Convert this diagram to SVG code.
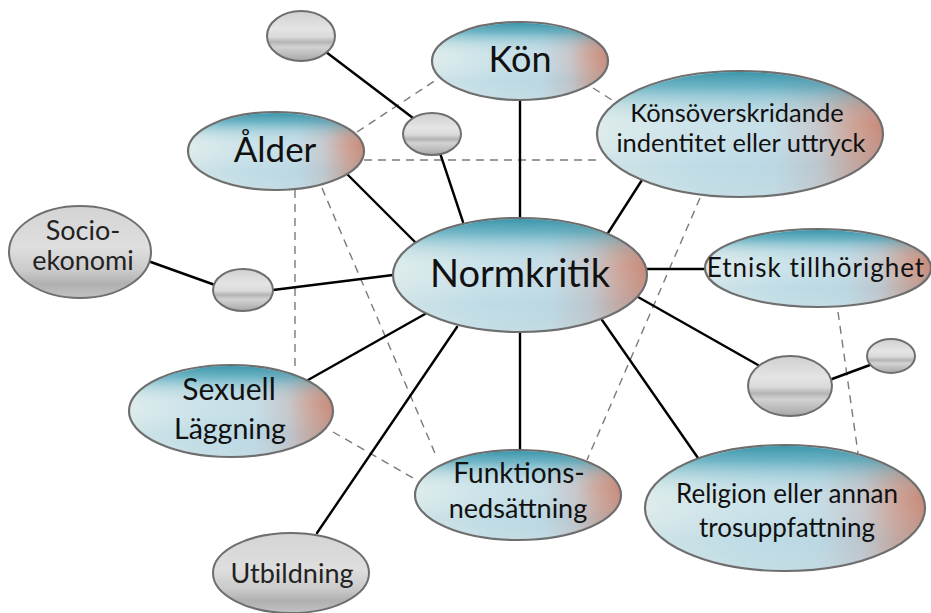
<svg xmlns="http://www.w3.org/2000/svg" width="931" height="613" viewBox="0 0 931 613">
<defs>
<linearGradient id="warm" x1="0" y1="0" x2="1" y2="0">
<stop offset="0" stop-color="#dbeae9"/>
<stop offset="0.35" stop-color="#c6e0e8"/>
<stop offset="0.62" stop-color="#c0dae4"/>
<stop offset="0.78" stop-color="#c2c2c6"/>
<stop offset="0.9" stop-color="#c99a8c"/>
<stop offset="1" stop-color="#c27f6d"/>
</linearGradient>
<linearGradient id="sky" x1="0" y1="0" x2="0" y2="1">
<stop offset="0" stop-color="#2f8ea3" stop-opacity="0.9"/>
<stop offset="0.12" stop-color="#3e9db3" stop-opacity="0.65"/>
<stop offset="0.28" stop-color="#8cc4d2" stop-opacity="0.22"/>
<stop offset="0.42" stop-color="#ffffff" stop-opacity="0.08"/>
<stop offset="0.75" stop-color="#a9cfe0" stop-opacity="0.25"/>
<stop offset="1" stop-color="#c8dce0" stop-opacity="0.3"/>
</linearGradient>
<linearGradient id="greyband" x1="0" y1="0" x2="0" y2="1">
<stop offset="0" stop-color="#d0d0d0"/>
<stop offset="0.35" stop-color="#e4e4e4"/>
<stop offset="0.52" stop-color="#dadada"/>
<stop offset="0.62" stop-color="#b4b4b4"/>
<stop offset="0.72" stop-color="#d2d2d2"/>
<stop offset="0.88" stop-color="#bababa"/>
<stop offset="1" stop-color="#a6a6a6"/>
</linearGradient>
<linearGradient id="greysoft" x1="0" y1="0" x2="0" y2="1">
<stop offset="0" stop-color="#d4d4d4"/>
<stop offset="0.45" stop-color="#dedede"/>
<stop offset="0.7" stop-color="#cacaca"/>
<stop offset="0.85" stop-color="#b0b0b0"/>
<stop offset="1" stop-color="#c2c2c2"/>
</linearGradient>
<style>
.solid{stroke:#000;stroke-width:2.4;fill:none;stroke-linecap:round}
.dash{stroke:#7a7a7a;stroke-width:1.4;fill:none;stroke-dasharray:8 6}
.c{fill:url(#warm);stroke:#6e6e6e;stroke-width:2.2}
.o{fill:url(#sky);stroke:none}
.g{fill:url(#greyband);stroke:#6e6e6e;stroke-width:2}
.gs{fill:url(#greysoft);stroke:#6e6e6e;stroke-width:2}
text{font-family:"Lato","Open Sans","DejaVu Sans",sans-serif;fill:#111;text-anchor:middle}
.lt{fill:#222}
</style>
</defs>
<rect width="931" height="613" fill="#ffffff"/>
<g id="connectors">
<line class="dash" x1="357" y1="132" x2="436" y2="80"/>
<line class="dash" x1="593" y1="88" x2="612" y2="100"/>
<line class="dash" x1="364" y1="160" x2="600" y2="160"/>
<line class="dash" x1="295" y1="190" x2="295" y2="370"/>
<line class="dash" x1="322" y1="188" x2="437" y2="458"/>
<line class="dash" x1="333" y1="432" x2="413" y2="478"/>
<line class="dash" x1="700" y1="198" x2="587" y2="460"/>
<line class="dash" x1="838" y1="312" x2="858" y2="453"/>
<line class="solid" x1="520" y1="100" x2="520" y2="218"/>
<line class="solid" x1="440" y1="153" x2="463" y2="222"/>
<line class="solid" x1="326" y1="52" x2="413" y2="118"/>
<line class="solid" x1="348" y1="175" x2="415" y2="242"/>
<line class="solid" x1="273" y1="290" x2="393" y2="275"/>
<line class="solid" x1="148" y1="261" x2="215" y2="285"/>
<line class="solid" x1="308" y1="380" x2="425" y2="314"/>
<line class="solid" x1="457" y1="327" x2="317" y2="533"/>
<line class="solid" x1="520" y1="332" x2="520" y2="450"/>
<line class="solid" x1="602" y1="320" x2="698" y2="458"/>
<line class="solid" x1="638" y1="297" x2="758" y2="365"/>
<line class="solid" x1="832" y1="379" x2="870" y2="365"/>
<line class="solid" x1="647" y1="269" x2="705" y2="269"/>
<line class="solid" x1="608" y1="233" x2="642" y2="180"/>
</g>
<g id="n-normkritik">
<ellipse class="c" cx="520" cy="275" rx="127" ry="57"/>
<ellipse class="o" cx="520" cy="275" rx="126" ry="56"/>
<text x="520" y="287" font-size="38">Normkritik</text>
</g>
<g id="n-kon">
<ellipse class="c" cx="520" cy="61" rx="88" ry="39"/>
<ellipse class="o" cx="520" cy="61" rx="87" ry="38"/>
<text x="520" y="72" font-size="36">Kön</text>
</g>
<g id="n-alder">
<ellipse class="c" cx="276" cy="151" rx="88" ry="39"/>
<ellipse class="o" cx="276" cy="151" rx="87" ry="38"/>
<text x="275" y="162" font-size="35">Ålder</text>
</g>
<g id="n-konsoverskridande">
<ellipse class="c" cx="740" cy="134" rx="143" ry="63"/>
<ellipse class="o" cx="740" cy="134" rx="142" ry="62"/>
<text x="737" y="122" font-size="25.5">Könsöverskridande</text>
<text x="741" y="152" font-size="25.5">indentitet eller uttryck</text>
</g>
<g id="n-etnisk">
<ellipse class="c" cx="818" cy="268" rx="113" ry="39"/>
<ellipse class="o" cx="818" cy="268" rx="112" ry="38"/>
<text x="816" y="277" font-size="26" letter-spacing="1">Etnisk tillhörighet</text>
</g>
<g id="n-religion">
<ellipse class="c" cx="785" cy="508" rx="140" ry="63"/>
<ellipse class="o" cx="785" cy="508" rx="139" ry="62"/>
<text x="787" y="503" font-size="26">Religion eller annan</text>
<text x="787" y="537" font-size="26">trosuppfattning</text>
</g>
<g id="n-funktion">
<ellipse class="c" cx="518" cy="495" rx="103" ry="45"/>
<ellipse class="o" cx="518" cy="495" rx="102" ry="44"/>
<text x="519" y="483" font-size="28">Funktions-</text>
<text x="518" y="518" font-size="27">nedsättning</text>
</g>
<g id="n-sexuell">
<ellipse class="c" cx="231" cy="411" rx="102" ry="46"/>
<ellipse class="o" cx="231" cy="411" rx="101" ry="45"/>
<text x="229" y="400" font-size="30">Sexuell</text>
<text x="230" y="439" font-size="28.5">Läggning</text>
</g>
<g id="n-socio">
<ellipse class="gs" cx="80" cy="252" rx="71" ry="46"/>
<text class="lt" x="83" y="240" font-size="27">Socio-</text>
<text class="lt" x="83" y="270" font-size="27">ekonomi</text>
</g>
<g id="n-utbildning">
<ellipse class="gs" cx="291" cy="573" rx="78" ry="40"/>
<text class="lt" x="292" y="583" font-size="27">Utbildning</text>
</g>
<g id="n-small-top">
<ellipse class="g" cx="301" cy="36" rx="34" ry="25"/>
</g>
<g id="n-small-kon">
<ellipse class="g" cx="432" cy="134" rx="29" ry="21"/>
</g>
<g id="n-small-left">
<ellipse class="g" cx="243" cy="290" rx="30" ry="21"/>
</g>
<g id="n-medium-right">
<ellipse class="g" cx="790" cy="386" rx="42" ry="30"/>
</g>
<g id="n-small-right">
<ellipse class="g" cx="891" cy="356" rx="24" ry="17"/>
</g>
</svg>
